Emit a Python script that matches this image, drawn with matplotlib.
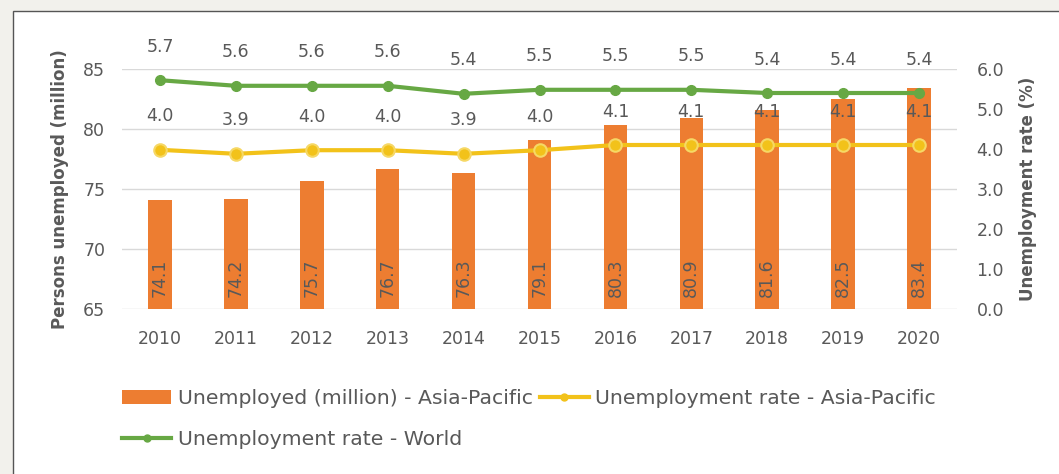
import numpy as np
import matplotlib.pyplot as plt
from matplotlib.patches import Rectangle, Patch
from matplotlib.lines import Line2D

plt.rcParams['font.family'] = ['DejaVu Sans']

# data
years = ['2010', '2011', '2012', '2013', '2014', '2015', '2016', '2017', '2018', '2019', '2020']
unemployed = [74.1, 74.2, 75.7, 76.7, 76.3, 79.1, 80.3, 80.9, 81.6, 82.5, 83.4]
rate_asia = [3.98, 3.88, 3.97, 3.97, 3.88, 3.97, 4.1, 4.1, 4.1, 4.1, 4.1]
rate_world = [5.72, 5.58, 5.58, 5.58, 5.38, 5.48, 5.48, 5.48, 5.4, 5.4, 5.4]

text_col = '#595959'
orange = '#ED7D31'
yellow = '#F2C21A'
green = '#67A844'

fig = plt.figure(figsize=(10.59, 4.74), dpi=100, facecolor='#f2f1ec')
# white panel with thin border
fig.patches.append(Rectangle((13 / 1059, -0.1), 1.2, 1 - 11 / 474 + 0.1,
                             transform=fig.transFigure, facecolor='white',
                             edgecolor='#555555', linewidth=1.0, zorder=-10))

ax = fig.add_axes([122 / 1059, 1 - 309 / 474, (957 - 122) / 1059, 240 / 474])
ax.set_facecolor('none')
ax2 = ax.twinx()

x = np.arange(len(years))
ax.bar(x, np.array(unemployed) - 65, bottom=65, width=0.31, color=orange, zorder=2)
for xi, v in zip(x, unemployed):
    ax.text(xi, 67.6, f'{v:.1f}', rotation=90, ha='center', va='center',
            color=text_col, fontsize=12.5, zorder=3)

ax.set_ylim(65, 85)
ax.set_yticks([65, 70, 75, 80, 85])
ax.set_xlim(-0.5, 10.5)
ax.set_xticks(x)
ax.set_xticklabels(years)
ax.grid(axis='y', color='#d9d9d9', linewidth=1, zorder=0)
ax.set_axisbelow(True)

ax2.plot(x, rate_asia, color=yellow, linewidth=3, marker='o', markersize=9,
         markeredgecolor='#f6d865', markeredgewidth=1.5, zorder=4)
ax2.plot(x, rate_world, color=green, linewidth=3, marker='o', markersize=7, zorder=4)
for xi, v in zip(x, rate_asia):
    ax2.annotate(f'{v:.1f}', (xi, v), xytext=(0, 24), textcoords='offset points',
                 ha='center', va='center', color=text_col, fontsize=12.5)
for xi, v in zip(x, rate_world):
    ax2.annotate(f'{v:.1f}', (xi, v), xytext=(0, 24), textcoords='offset points',
                 ha='center', va='center', color=text_col, fontsize=12.5)
ax2.set_ylim(0, 6)
ax2.set_yticks(np.arange(0, 6.1, 1))
ax2.set_yticklabels([f'{t:.1f}' for t in np.arange(0, 6.1, 1)])

for a in (ax, ax2):
    for s in a.spines.values():
        s.set_visible(False)
    a.tick_params(length=0, colors=text_col, labelsize=12.5)
ax.tick_params(axis='x', pad=15)
ax.tick_params(axis='y', pad=12)
ax2.tick_params(axis='y', pad=14)

ax.set_ylabel('Persons unemployed (million)', color=text_col, fontsize=12,
              fontweight='bold', labelpad=10)
ax2.set_ylabel('Unemployment rate (%)', color=text_col, fontsize=12,
               fontweight='bold', labelpad=11)

handles = [Patch(facecolor=orange),
           Line2D([], [], color=green, linewidth=3, marker='o', markersize=5),
           Line2D([], [], color=yellow, linewidth=3, marker='o', markersize=5)]
labels = ['Unemployed (million) - Asia-Pacific', 'Unemployment rate - World',
          'Unemployment rate - Asia-Pacific']
fig.legend(handles, labels, loc='upper left', bbox_to_anchor=(104 / 1059, 1 - 371 / 474),
           ncol=2, frameon=False, fontsize=14.7, labelcolor=text_col,
           handlelength=2.4, handletextpad=0.3, columnspacing=0.35,
           labelspacing=1.05)

fig.savefig('out.png', dpi=100, facecolor=fig.get_facecolor())
